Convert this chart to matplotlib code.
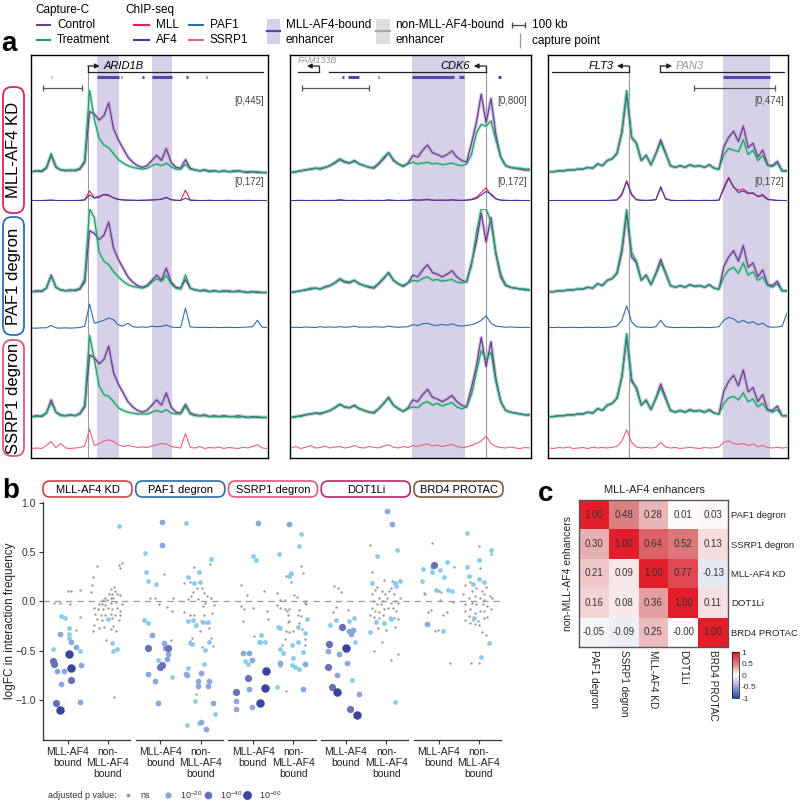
import matplotlib.pyplot as plt
import numpy as np
from matplotlib.patches import FancyBboxPatch, Rectangle
from matplotlib.colors import LinearSegmentedColormap

plt.rcParams['font.family'] = ['Liberation Sans', 'DejaVu Sans']
plt.rcParams['mathtext.default'] = 'regular'

W, H = 800, 805

# ---------------- panel a: Capture-C / ChIP-seq tracks (fraction of track max) ----------------
left_control = [.05, .06, .05, .09, .24, .10, .07, .06, .07, .06, .08, .16, .75, .72, .65, .70, .85, .55, .42, .32,
                .22, .16, .12, .10, .12, .18, .24, .18, .32, .16, .10, .09, .19, .09, .07, .06, .07, .05, .06, .05,
                .06, .05, .05, .06, .05, .04, .05, .04, .04, .04]
left_kd = [.05, .06, .06, .10, .26, .11, .07, .07, .06, .07, .09, .18, 1.0, .66, .44, .36, .33, .26, .19, .15,
           .12, .10, .09, .08, .09, .12, .14, .12, .15, .11, .08, .08, .14, .08, .07, .06, .07, .06, .06, .05,
           .06, .05, .06, .06, .05, .05, .05, .05, .04, .04]
left_paf1 = [.05, .05, .06, .09, .23, .10, .07, .06, .06, .07, .09, .20, 1.0, .90, .50, .40, .36, .28, .22, .17,
             .13, .11, .10, .09, .11, .16, .20, .17, .24, .14, .09, .08, .24, .09, .07, .06, .06, .05, .06, .05,
             .05, .06, .05, .05, .05, .04, .05, .05, .04, .04]
left_ssrp1 = [.05, .05, .06, .09, .21, .10, .06, .06, .07, .06, .09, .18, .97, .70, .40, .30, .28, .22, .15, .12,
              .10, .09, .08, .08, .08, .10, .12, .10, .13, .09, .08, .08, .17, .08, .06, .06, .06, .05, .05, .05,
              .05, .05, .05, .04, .05, .04, .04, .05, .04, .04]
left_mll = [.02, .02, .02, .03, .04, .02, .02, .02, .02, .02, .03, .05, .42, .15, .20, .26, .22, .14, .08, .05,
            .04, .03, .03, .03, .04, .05, .06, .08, .14, .06, .03, .03, .45, .04, .03, .02, .02, .03, .02, .02,
            .02, .03, .02, .02, .02, .03, .02, .02, .02, .02]
left_af4 = [.02, .02, .02, .02, .03, .02, .02, .02, .02, .02, .02, .04, .25, .12, .15, .28, .25, .12, .06, .04,
            .03, .03, .02, .03, .03, .04, .05, .07, .16, .05, .03, .02, .12, .03, .02, .02, .02, .02, .02, .02,
            .02, .02, .02, .02, .02, .02, .02, .02, .02, .02]
left_paf1_chip = [.03, .03, .04, .04, .12, .04, .03, .04, .03, .04, .05, .10, .86, .20, .25, .30, .38, .32, .14, .10,
                  .20, .08, .06, .07, .06, .10, .08, .09, .14, .07, .05, .06, .72, .07, .06, .05, .06, .05, .06, .05,
                  .05, .06, .05, .05, .06, .07, .08, .30, .06, .05]
left_ssrp1_chip = [.10, .12, .10, .22, .38, .14, .30, .12, .10, .12, .14, .20, .88, .22, .30, .40, .45, .38, .25, .18,
                   .22, .18, .14, .16, .14, .20, .25, .30, .28, .18, .15, .12, .70, .14, .12, .18, .10, .14, .12, .16,
                   .10, .14, .12, .10, .15, .12, .18, .25, .12, .10]

mid_control = [.04, .05, .06, .07, .08, .09, .08, .10, .12, .15, .19, .16, .15, .18, .14, .12, .10, .09, .14, .20,
               .27, .18, .14, .11, .15, .24, .22, .30, .36, .27, .25, .22, .25, .29, .22, .18, .16, .38, .62, .95,
               .62, .90, .48, .22, .12, .10, .09, .08, .07, .07]
mid_kd = [.04, .05, .06, .07, .08, .09, .09, .10, .12, .16, .20, .17, .15, .17, .14, .12, .10, .10, .15, .22,
          .27, .19, .14, .12, .14, .16, .14, .15, .16, .14, .15, .13, .14, .15, .13, .12, .14, .25, .50, .60,
          .58, .64, .42, .22, .12, .10, .09, .09, .08, .08]
mid_paf1 = [.04, .05, .06, .07, .09, .09, .08, .11, .12, .15, .20, .17, .16, .18, .14, .12, .11, .10, .15, .21,
            .26, .18, .14, .12, .15, .18, .17, .20, .22, .18, .19, .17, .18, .19, .16, .15, .17, .35, .72, 1.0,
            1.0, .85, .50, .25, .13, .10, .09, .08, .08, .07]
mid_ssrp1 = [.04, .05, .05, .07, .08, .09, .09, .10, .12, .15, .19, .16, .15, .17, .14, .12, .10, .10, .14, .20,
             .26, .18, .14, .11, .14, .16, .15, .20, .22, .18, .20, .17, .19, .21, .16, .14, .16, .30, .55, .80,
             .70, .78, .45, .22, .12, .10, .09, .08, .07, .07]
mid_mll = [.02, .02, .03, .02, .02, .03, .02, .02, .03, .02, .06, .03, .02, .03, .02, .02, .03, .02, .03, .02,
           .05, .03, .02, .03, .03, .06, .04, .05, .08, .04, .03, .04, .03, .06, .03, .03, .04, .08, .15, .35,
           .55, .25, .08, .04, .03, .02, .03, .02, .02, .02]
mid_af4 = [.02, .02, .02, .02, .02, .02, .02, .02, .02, .02, .03, .02, .02, .02, .02, .02, .02, .02, .02, .02,
           .03, .02, .02, .02, .02, .04, .03, .04, .05, .03, .03, .03, .03, .04, .03, .02, .03, .05, .10, .25,
           .40, .30, .10, .03, .02, .02, .02, .02, .02, .02]
mid_paf1_chip = [.05, .06, .05, .07, .06, .05, .08, .06, .07, .06, .08, .06, .07, .10, .06, .07, .06, .08, .07, .06,
                 .10, .07, .06, .07, .08, .15, .12, .18, .20, .14, .12, .16, .13, .18, .12, .10, .12, .15, .20, .30,
                 .45, .20, .10, .08, .06, .07, .06, .05, .06, .05]
mid_ssrp1_chip = [.12, .18, .10, .15, .22, .12, .14, .20, .12, .16, .18, .12, .15, .22, .14, .12, .18, .15, .12, .20,
                  .25, .15, .12, .18, .14, .22, .18, .25, .28, .20, .24, .18, .22, .26, .18, .14, .16, .22, .30, .40,
                  .60, .30, .18, .14, .12, .16, .12, .10, .14, .12]

right_control = [.05, .05, .06, .06, .07, .07, .08, .08, .10, .09, .14, .12, .18, .20, .26, .50, .95, .45, .38, .18,
                 .24, .13, .26, .42, .27, .12, .10, .12, .10, .13, .11, .12, .10, .13, .09, .08, .34, .45, .52, .40,
                 .58, .33, .38, .22, .30, .13, .12, .17, .06, .06]
right_kd = [.05, .05, .06, .06, .07, .07, .08, .08, .10, .09, .14, .12, .18, .20, .27, .52, 1.0, .45, .38, .18,
            .24, .13, .26, .39, .26, .12, .10, .12, .10, .13, .11, .12, .10, .13, .09, .08, .25, .32, .30, .28,
            .42, .25, .30, .18, .24, .12, .11, .15, .06, .06]
right_paf1 = [.05, .05, .06, .06, .07, .07, .08, .08, .10, .09, .14, .12, .18, .20, .27, .55, 1.0, .50, .40, .18,
              .24, .13, .25, .38, .26, .12, .10, .12, .10, .13, .11, .12, .10, .13, .09, .08, .22, .30, .33, .26,
              .38, .24, .28, .18, .22, .12, .10, .14, .06, .06]
right_ssrp1 = [.05, .05, .06, .06, .07, .07, .08, .08, .10, .09, .14, .12, .18, .20, .26, .50, 1.0, .48, .36, .18,
               .23, .13, .25, .38, .25, .12, .10, .12, .10, .12, .11, .12, .10, .12, .09, .08, .20, .26, .28, .24,
               .32, .22, .25, .16, .20, .12, .10, .13, .06, .06]
right_mll = [.02, .02, .02, .02, .02, .02, .02, .02, .02, .02, .02, .02, .02, .03, .05, .30, .85, .30, .06, .03,
             .03, .03, .06, .55, .10, .03, .02, .02, .02, .03, .02, .02, .03, .02, .03, .04, .60, 1.0, .55, .45,
             .50, .35, .30, .20, .28, .08, .05, .03, .02, .02]
right_af4 = [.02, .02, .02, .02, .02, .02, .02, .02, .02, .02, .02, .02, .02, .03, .04, .25, .80, .25, .05, .03,
             .02, .03, .05, .60, .08, .03, .02, .02, .02, .02, .02, .02, .02, .02, .02, .03, .50, .95, .60, .35,
             .42, .30, .35, .18, .22, .06, .04, .02, .02, .02]
right_paf1_chip = [.05, .05, .06, .05, .05, .06, .05, .05, .06, .05, .06, .05, .06, .07, .10, .30, .80, .25, .08, .06,
                   .06, .05, .08, .30, .08, .06, .05, .05, .06, .05, .05, .06, .05, .05, .06, .08, .30, .40, .35, .22,
                   .30, .20, .25, .15, .20, .08, .06, .07, .10, .55]
right_ssrp1_chip = [.12, .10, .14, .12, .16, .10, .12, .14, .10, .15, .12, .14, .12, .15, .18, .40, .85, .35, .16, .12,
                    .14, .12, .15, .35, .16, .12, .14, .10, .12, .15, .12, .10, .14, .12, .13, .16, .35, .40, .30, .26,
                    .30, .22, .28, .18, .22, .14, .12, .15, .12, .14]

# locus annotations (fraction of locus width)
left_capture, mid_capture, right_capture = 0.24, 0.8125, 0.3375
left_shade = [(0.28, 0.37), (0.51, 0.595)]
mid_shade = [(0.507, 0.725)]
right_shade = [(0.73, 0.925)]
left_bars = [(0.28, 0.37), (0.51, 0.595), (0.38, 0.386), (0.47, 0.476), (0.655, 0.661), (0.738, 0.744)]
mid_bars = [(0.216, 0.226), (0.242, 0.288), (0.366, 0.370), (0.507, 0.68), (0.70, 0.72), (0.862, 0.876)]
right_bars = [(0.73, 0.925)]
left_genes = [("ARID1B", 0.24, 0.98, 1, 'black', None)]
mid_genes = [("FAM133B", 0.12, 0.033, -1, '#999999', (0.03, 61)), ("CDK6", 0.8125, 0.162, -1, 'black', None)]
right_genes = [("FLT3", 0.3375, 0.017, -1, 'black', None), ("PAN3", 0.467, 0.985, 1, '#999999', None)]
left_scale, mid_scale, right_scale = (0.05, 0.215), (0.05, 0.329), (0.608, 0.946)
range_labels = ['[0,445]', '[0,800]', '[0,474]']
row_names = ['MLL-AF4 KD', 'PAF1 degron', 'SSRP1 degron']

# ---------------- panel b: logFC per enhancer (offset from category centre, logFC, p-value class) ----------------
kd_bound = [(-0.15, -0.02, 0), (-0.08, -0.02, 0), (0.00, 0.10, 0), (0.04, 0.11, 0), (0.03, -0.03, 0), (0.13, 0.12, 0),
            (0.13, -0.16, 0), (0.09, -0.29, 0),
            (-0.07, -0.15, 1), (-0.03, -0.17, 1), (0.01, -0.27, 1), (0.01, -0.33, 1), (0.01, -0.37, 1), (-0.16, -0.48, 1),
            (0.13, -0.51, 1),
            (-0.08, -0.33, 2), (0.04, -0.41, 2), (0.09, -0.46, 2), (-0.11, -0.71, 2), (-0.04, -0.71, 2), (-0.07, -0.84, 2),
            (0.15, -0.65, 2), (0.13, -1.02, 2),
            (-0.16, -0.61, 3), (-0.15, -0.64, 3), (0.04, -0.80, 3), (-0.13, -1.03, 3),
            (0.02, -0.54, 4), (0.04, -0.68, 4), (-0.08, -1.11, 4)]
kd_nonbound = [(0.12, 0.77, 1), (0.00, -0.18, 1), (0.04, -0.42, 1), (0.10, -0.48, 1), (0.06, -0.51, 1),
               (-0.12, 0.36, 0), (0.12, 0.37, 0), (0.15, 0.39, 0), (0.13, 0.34, 0), (-0.16, 0.25, 0), (-0.17, 0.17, 0),
               (-0.18, 0.09, 0), (0.07, 0.15, 0), (0.03, 0.13, 0), (0.08, 0.10, 0), (0.04, 0.07, 0), (0.01, 0.07, 0),
               (-0.03, 0.03, 0), (-0.05, 0.01, 0), (-0.01, 0.01, 0), (0.03, 0.03, 0), (0.06, 0.03, 0), (0.10, 0.07, 0),
               (0.13, 0.06, 0), (-0.10, -0.03, 0), (-0.06, -0.03, 0), (-0.03, -0.04, 0), (0.03, -0.02, 0),
               (0.09, -0.01, 0), (0.15, -0.03, 0), (-0.15, -0.07, 0), (-0.11, -0.08, 0), (-0.05, -0.08, 0),
               (0.00, -0.07, 0), (0.04, -0.08, 0), (0.10, -0.07, 0), (0.13, -0.10, 0), (-0.14, -0.13, 0),
               (-0.08, -0.14, 0), (-0.03, -0.14, 0), (0.03, -0.13, 0), (0.08, -0.14, 0), (0.13, -0.14, 0),
               (-0.12, -0.18, 0), (-0.06, -0.19, 0), (0.04, -0.17, 0), (0.12, -0.19, 0), (-0.15, -0.24, 0),
               (-0.10, -0.27, 0), (-0.04, -0.26, 0), (0.03, -0.28, 0), (0.06, -0.25, 0), (0.09, -0.30, 0),
               (-0.16, -0.30, 0), (-0.02, -0.39, 0), (0.07, -0.97, 0)]
paf1_bound = [(0.02, 0.81, 2), (0.02, 0.57, 2), (-0.09, -0.34, 2), (0.04, -0.42, 2), (0.05, -0.47, 2), (0.08, -0.54, 2),
              (0.07, -0.59, 2), (-0.13, -0.74, 2), (-0.06, -0.81, 2), (-0.03, -1.03, 2),
              (-0.16, 0.49, 1), (-0.15, 0.30, 1), (-0.13, 0.21, 1), (-0.05, 0.18, 1), (-0.18, -0.19, 1), (-0.13, -0.22, 1),
              (-0.03, -0.60, 1), (0.13, -0.77, 1),
              (-0.13, -0.47, 3), (0.08, -0.47, 3), (0.02, -0.65, 3), (0.00, -0.67, 3),
              (0.04, 0.28, 0), (-0.11, 0.03, 0), (-0.06, 0.03, 0), (-0.01, -0.03, 0), (0.07, -0.06, 0), (0.13, -0.10, 0),
              (0.14, 0.03, 0), (0.11, -0.39, 0)]
paf1_nonbound = [(-0.16, 0.80, 1), (0.11, 0.43, 1), (-0.14, 0.25, 1), (-0.02, 0.30, 1), (-0.01, 0.20, 1), (-0.07, 0.19, 1),
                 (-0.14, -0.20, 1), (-0.08, -0.19, 1), (-0.05, -0.24, 1), (0.08, -0.21, 1), (0.02, -0.21, 1),
                 (-0.11, -0.42, 1), (-0.09, -0.43, 1), (0.09, -0.41, 1), (0.05, -0.49, 1), (-0.14, -0.68, 1),
                 (0.04, -0.64, 1), (-0.15, -1.26, 1), (-0.02, -1.24, 1), (0.15, -1.15, 1), (-0.06, -1.01, 1),
                 (-0.16, -0.74, 2), (-0.15, -0.75, 2), (-0.03, -0.81, 2), (-0.03, -0.86, 2), (0.00, -0.73, 2),
                 (0.09, -0.81, 2), (0.08, -0.86, 2), (0.13, -1.03, 2), (0.06, -1.30, 2), (0.00, -1.23, 2),
                 (-0.07, 0.35, 0), (-0.18, 0.19, 0), (-0.12, 0.20, 0), (-0.04, 0.14, 0), (-0.08, 0.09, 0), (-0.10, 0.05, 0),
                 (-0.18, -0.11, 0), (-0.12, -0.14, 0), (-0.07, -0.14, 0), (-0.09, -0.37, 0), (-0.05, -0.94, 0),
                 (0.10, 0.38, 0), (0.01, 0.14, 0), (0.04, 0.08, 0), (0.11, 0.03, 0), (0.14, -0.04, 0), (0.05, -0.02, 0),
                 (0.04, -0.14, 0), (0.09, -0.27, 0), (0.11, -0.37, 0), (0.01, -0.46, 0), (-0.03, 0.02, 0),
                 (0.02, -0.05, 0), (0.07, 0.05, 0), (-0.14, 0.02, 0), (0.00, -0.20, 0), (0.06, -0.22, 0),
                 (-0.06, -0.25, 0), (0.12, -0.12, 0), (-0.11, -0.40, 0), (0.13, -0.45, 0), (-0.01, -0.30, 0)]
ssrp1_bound = [(0.05, 0.80, 2), (-0.11, -0.53, 2), (-0.04, -0.53, 2), (-0.01, -0.60, 2), (-0.04, -0.89, 2),
               (-0.18, -1.01, 2), (-0.18, -1.09, 2), (-0.01, -1.07, 2),
               (0.00, 0.46, 1), (0.03, 0.42, 1), (0.09, -0.34, 1), (0.06, -0.41, 1), (0.08, -0.41, 1), (0.13, -0.41, 1),
               (-0.09, -0.61, 1), (-0.05, -0.64, 1),
               (-0.05, -0.78, 3), (-0.18, -0.92, 3),
               (0.14, -0.71, 4), (0.13, -0.88, 4), (0.08, -1.03, 4),
               (-0.13, 0.17, 0), (-0.07, 0.06, 0), (0.12, 0.11, 0), (-0.13, -0.05, 0), (-0.10, -0.08, 0), (0.00, -0.07, 0),
               (-0.11, -0.20, 0), (0.01, -0.35, 0), (0.16, -0.18, 0), (0.15, -0.10, 0)]
ssrp1_nonbound = [(-0.05, 0.79, 2), (-0.15, -0.63, 2), (0.13, -0.64, 2), (0.10, -0.89, 2),
                  (0.08, 0.68, 1), (0.06, 0.56, 1), (-0.16, 0.48, 1), (-0.03, 0.29, 1), (-0.05, 0.26, 1), (0.15, -0.18, 1),
                  (-0.17, -0.26, 1), (-0.15, -0.27, 1), (0.12, -0.32, 1), (0.05, -0.26, 1), (0.05, -0.41, 1),
                  (-0.01, -0.44, 1), (-0.14, -0.48, 1), (0.10, -0.52, 1), (-0.11, -0.53, 1), (0.00, -0.58, 1),
                  (-0.14, -0.65, 1), (-0.01, -0.65, 1), (0.02, -0.67, 1), (0.06, -0.69, 1), (-0.18, -0.87, 1),
                  (0.08, 0.36, 0), (0.10, 0.29, 0), (-0.01, 0.28, 0), (-0.08, 0.26, 0), (-0.03, 0.20, 0), (-0.18, 0.08, 0),
                  (0.01, 0.06, 0), (0.04, 0.04, 0), (-0.15, 0.01, 0), (-0.09, 0.01, 0), (-0.18, -0.04, 0),
                  (-0.09, -0.08, 0), (-0.07, -0.10, 0), (-0.05, -0.08, 0), (-0.06, -0.14, 0), (-0.05, -0.20, 0),
                  (-0.06, -0.21, 0), (-0.15, -0.07, 0), (0.06, -0.09, 0), (0.05, -0.14, 0), (0.08, -0.15, 0),
                  (0.12, 0.00, 0), (0.13, -0.02, 0), (0.14, -0.03, 0), (0.06, -0.22, 0), (0.09, -0.28, 0),
                  (-0.08, -0.30, 0), (0.00, -0.30, 0), (-0.05, -0.31, 0), (-0.09, -0.38, 0), (0.13, -0.38, 0),
                  (-0.12, -0.44, 0), (0.12, -0.44, 0), (-0.08, -0.91, 0)]
dot1l_bound = [(-0.13, 0.16, 0), (-0.08, 0.14, 0), (-0.05, 0.09, 0), (-0.11, -0.06, 0), (-0.14, -0.11, 0), (0.02, -0.09, 0),
               (-0.17, -0.24, 1), (-0.11, -0.19, 1), (0.09, -0.17, 1), (0.03, -0.20, 1), (0.10, -0.41, 1), (0.07, -0.80, 1),
               (0.08, -0.29, 2), (0.03, -0.30, 2), (0.06, -0.33, 2), (-0.19, -0.51, 2), (-0.07, -0.54, 2),
               (0.01, -0.63, 2), (-0.10, -0.75, 2), (0.14, -0.94, 2),
               (-0.04, -0.26, 3), (-0.18, -0.43, 3), (-0.19, -0.67, 3), (-0.15, -0.87, 3), (0.04, -1.09, 3),
               (0.00, -0.47, 4), (-0.10, -0.92, 4), (0.12, -1.16, 4)]
dot1l_nonbound = [(0.01, 0.92, 2), (0.06, 0.79, 2),
                  (0.12, 0.52, 1), (-0.10, 0.46, 1), (-0.15, 0.19, 1), (0.15, 0.21, 1), (0.09, 0.19, 1), (0.11, 0.16, 1),
                  (-0.11, -0.21, 1), (-0.02, -0.22, 1), (0.05, -0.18, 1), (-0.17, -0.31, 1), (0.09, -1.02, 1),
                  (-0.17, 0.57, 0), (-0.15, 0.30, 0), (0.06, 0.21, 0), (-0.02, 0.22, 0), (-0.10, 0.15, 0), (-0.12, 0.12, 0),
                  (-0.15, 0.07, 0), (-0.05, 0.10, 0), (-0.01, 0.07, 0), (0.03, 0.10, 0), (0.05, 0.14, 0), (0.08, 0.07, 0),
                  (-0.08, 0.03, 0), (-0.03, 0.00, 0), (0.01, 0.03, 0), (-0.14, 0.00, 0), (-0.10, -0.03, 0),
                  (-0.06, -0.03, 0), (0.05, -0.02, 0), (0.10, 0.00, 0), (0.13, -0.02, 0), (0.15, 0.03, 0),
                  (-0.15, -0.07, 0), (-0.12, -0.10, 0), (-0.08, -0.11, 0), (-0.02, -0.08, 0), (0.02, -0.07, 0),
                  (0.07, -0.07, 0), (0.11, -0.10, 0), (-0.17, -0.14, 0), (-0.13, -0.16, 0), (-0.08, -0.17, 0),
                  (-0.03, -0.14, 0), (0.04, -0.16, 0), (0.08, -0.17, 0), (0.13, -0.18, 0), (-0.03, -0.22, 0),
                  (0.00, -0.29, 0), (0.10, -0.26, 0), (-0.09, -0.27, 0), (-0.05, -0.41, 0), (-0.13, -0.51, 0),
                  (0.05, -0.60, 0), (0.13, -0.54, 0)]
brd4_bound = [(-0.05, 0.37, 3),
              (-0.17, 0.33, 1), (-0.07, 0.30, 1), (-0.07, 0.35, 1), (0.02, 0.32, 1), (0.09, 0.40, 1), (0.06, 0.25, 1),
              (-0.18, 0.21, 1), (-0.03, 0.12, 1), (0.10, 0.12, 1), (0.14, 0.11, 1), (0.05, -0.30, 1),
              (-0.12, -0.23, 2),
              (-0.07, 0.59, 0), (0.17, 0.35, 0), (-0.16, 0.08, 0), (-0.15, 0.07, 0), (0.00, 0.10, 0), (0.03, 0.09, 0),
              (0.01, 0.01, 0), (0.16, -0.01, 0), (-0.08, -0.09, 0), (-0.11, -0.11, 0), (0.09, -0.11, 0), (0.05, -0.14, 0),
              (-0.04, -0.30, 0), (-0.01, -0.29, 0), (0.12, -0.63, 0)]
brd4_nonbound = [(-0.13, 0.69, 1), (0.13, 0.52, 1), (0.00, 0.42, 1), (-0.13, 0.35, 1), (-0.06, 0.18, 1), (-0.11, 0.26, 1),
                 (0.00, 0.23, 1), (0.05, 0.20, 1), (-0.05, -0.17, 1), (0.11, -0.42, 1), (0.02, -0.57, 1),
                 (0.00, 0.56, 0), (0.13, 0.48, 0), (0.01, 0.34, 0), (-0.10, 0.20, 0), (-0.15, 0.17, 0), (-0.07, 0.10, 0),
                 (-0.03, 0.14, 0), (0.03, 0.10, 0), (0.08, 0.15, 0), (-0.17, 0.07, 0), (-0.11, 0.03, 0), (-0.04, 0.05, 0),
                 (0.01, 0.03, 0), (0.06, 0.01, 0), (0.12, 0.05, 0), (-0.15, -0.03, 0), (-0.08, -0.02, 0),
                 (-0.03, -0.03, 0), (0.04, -0.03, 0), (0.09, -0.05, 0), (-0.10, -0.08, 0), (-0.04, -0.12, 0),
                 (0.01, -0.10, 0), (0.06, -0.10, 0), (0.13, -0.08, 0), (-0.15, -0.10, 0), (-0.11, -0.15, 0),
                 (-0.06, -0.19, 0), (-0.01, -0.20, 0), (0.05, -0.17, 0), (0.09, -0.16, 0), (-0.15, -0.19, 0),
                 (-0.10, -0.22, 0), (-0.04, -0.23, 0), (0.00, -0.24, 0), (0.08, -0.34, 0), (0.03, -0.31, 0),
                 (0.00, -0.63, 0), (-0.09, -0.63, 0), (0.06, 0.07, 0), (0.14, 0.03, 0)]
group_names = ['MLL-AF4 KD', 'PAF1 degron', 'SSRP1 degron', 'DOT1Li', 'BRD4 PROTAC']
group_colors = ['#C9473F', '#2C6AA6', '#E0587A', '#B22A6E', '#7A5A40']

# ---------------- panel c: correlation matrix ----------------
heat_labels = ['PAF1 degron', 'SSRP1 degron', 'MLL-AF4 KD', 'DOT1Li', 'BRD4 PROTAC']
corr = [[1.00, 0.48, 0.28, 0.01, 0.03],
        [0.30, 1.00, 0.64, 0.52, 0.13],
        [0.21, 0.09, 1.00, 0.77, -0.13],
        [0.16, 0.08, 0.36, 1.00, 0.11],
        [-0.05, -0.09, 0.25, -0.0, 1.00]]

PURPLE, PURPLE_L = '#6A3D8F', '#B9A3CF'
GREEN, GREEN_L = '#1F9D6B', '#9ED6BD'
MLL_C, AF4_C, PAF1_C, SSRP1_C = '#E8205A', '#3B3B9E', '#2E6DB0', '#F0607F'
SHADE, ENH = '#D6D0E8', '#5A45A8'
P_COLORS = ['#9A9A9A', '#87CDEA', '#8AA8DE', '#6A70B8', '#3A45A0']
P_SIZES = [3, 12, 17, 27, 37]


def rect(x0, y0, x1, y1):
    return [x0 / W, 1 - y1 / H, (x1 - x0) / W, (y1 - y0) / H]


fig = plt.figure(figsize=(8, 8.05), dpi=100)

CAP_ROWS = [(90, 176), (209, 296), (333, 421)]
CHIP_ROWS = [(177, 201), (300, 329), (426, 451)]


def draw_locus(x0, x1, capture, shades, bars, genes, scale, rlabel, control, treats, chips, gray_bars=()):
    box = fig.add_axes(rect(x0, 55, x1, 458))
    box.set_xlim(0, 1)
    box.set_ylim(458, 55)
    box.set_xticks([])
    box.set_yticks([])
    for s in box.spines.values():
        s.set_linewidth(1.0)
    for a, b in shades:
        box.axvspan(a, b, color=SHADE, lw=0)
    box.vlines(capture, 66, 458, color='#9a9a9a', lw=0.8)
    for name, tss, end, d, col, lab in genes:
        box.plot([tss, end], [72, 72], color='#222222', lw=0.9)
        box.plot([tss, tss], [72, 66], color='#222222', lw=0.9)
        box.annotate('', xy=(tss + d * 0.05, 66), xytext=(tss, 66),
                     arrowprops=dict(arrowstyle='-|>', color='#222222', lw=0.9,
                                     mutation_scale=7, shrinkA=0, shrinkB=0))
        if lab is None:
            box.text(tss + d * 0.065, 66, name, ha='left' if d > 0 else 'right', va='center',
                     style='italic', fontsize=8, color=col)
        else:
            box.text(lab[0], lab[1], name, ha='left', va='center', style='italic', fontsize=6.5, color=col)
    for a, b in bars:
        box.hlines(77, a, b, color=ENH, lw=2.2)
    for a, b in gray_bars:
        box.hlines(77, a, b, color='#A0A0A0', lw=2.2)
    box.plot(scale, [88, 88], color='#555555', lw=0.9)
    box.vlines(scale, 85, 91, color='#555555', lw=0.9)
    box.text(0.985, 101, rlabel, ha='right', va='center', fontsize=7, color='#444444')
    box.text(0.985, 182, '[0,172]', ha='right', va='center', fontsize=7, color='#444444')

    for r in range(3):
        t0, t1 = CAP_ROWS[r]
        ax = fig.add_axes(rect(x0 + 1, t0, x1 - 1, t1))
        ax.set_xlim(0, 1)
        ax.set_ylim(0, 1)
        ax.axis('off')
        xc = np.linspace(0, 1, len(control))
        xt = np.linspace(0, 1, len(treats[r]))
        ax.plot(xc, control, color=PURPLE_L, lw=2.6, alpha=0.6, solid_joinstyle='round')
        ax.plot(xt, treats[r], color=GREEN_L, lw=2.6, alpha=0.6, solid_joinstyle='round')
        ax.plot(xc, control, color=PURPLE, lw=0.9)
        ax.plot(xt, treats[r], color=GREEN, lw=0.9)

        c0, c1 = CHIP_ROWS[r]
        axc = fig.add_axes(rect(x0 + 1, c0, x1 - 1, c1))
        axc.set_xlim(0, 1)
        axc.set_ylim(0, 1)
        axc.axis('off')
        for vals, col in chips[r]:
            axc.plot(np.linspace(0, 1, len(vals)), vals, color=col, lw=0.8)


draw_locus(31, 268, left_capture, left_shade, left_bars, left_genes, left_scale, range_labels[0],
           left_control, [left_kd, left_paf1, left_ssrp1],
           [[(left_mll, MLL_C), (left_af4, AF4_C)], [(left_paf1_chip, PAF1_C)], [(left_ssrp1_chip, SSRP1_C)]],
           gray_bars=[(0.085, 0.09)])
draw_locus(290, 531, mid_capture, mid_shade, mid_bars, mid_genes, mid_scale, range_labels[1],
           mid_control, [mid_kd, mid_paf1, mid_ssrp1],
           [[(mid_mll, MLL_C), (mid_af4, AF4_C)], [(mid_paf1_chip, PAF1_C)], [(mid_ssrp1_chip, SSRP1_C)]])
draw_locus(548, 788, right_capture, right_shade, right_bars, right_genes, right_scale, range_labels[2],
           right_control, [right_kd, right_paf1, right_ssrp1],
           [[(right_mll, MLL_C), (right_af4, AF4_C)], [(right_paf1_chip, PAF1_C)], [(right_ssrp1_chip, SSRP1_C)]])

# ---------------- panel b ----------------
axb = fig.add_axes(rect(43, 502, 503, 740))
axb.set_xlim(0, 460 / 92.75)
axb.set_ylim(-1.41, 1.01)
axb.axhline(0, color='#999999', lw=0.9, ls=(0, (5, 4)), zorder=0)
groups = [(kd_bound, kd_nonbound), (paf1_bound, paf1_nonbound), (ssrp1_bound, ssrp1_nonbound),
          (dot1l_bound, dot1l_nonbound), (brd4_bound, brd4_nonbound)]
pts = []
for g, (bound, nonbound) in enumerate(groups):
    for centre, data in [(g + 0.265, bound), (g + 0.70, nonbound)]:
        for off, fc, cat in data:
            pts.append((centre + off, fc, cat))
pts = np.array(pts)
for cat in range(5):
    sel = pts[pts[:, 2] == cat]
    axb.scatter(sel[:, 0], sel[:, 1], s=P_SIZES[cat], color=P_COLORS[cat], lw=0, zorder=2 + cat)
for g in range(5):
    axb.plot([g, g + 0.94], [-1.41, -1.41], color='#333333', lw=0.9, clip_on=False)
ticks = []
labels = []
for g in range(5):
    ticks += [g + 0.265, g + 0.70]
    labels += ['MLL-AF4\nbound', 'non-\nMLL-AF4\nbound']
axb.set_xticks(ticks)
axb.set_xticklabels(labels, fontsize=7.5, color='#222222', linespacing=1.15)
axb.set_yticks([-1.0, -0.5, 0.0, 0.5, 1.0])
axb.set_yticklabels(['\u22121.0', '\u22120.5', '0.0', '0.5', '1.0'], fontsize=7.5, color='#333333')
axb.tick_params(axis='both', length=3, width=0.8, color='#333333', pad=2)
for s in ['top', 'right', 'bottom']:
    axb.spines[s].set_visible(False)
axb.spines['left'].set_color('#333333')
axb.spines['left'].set_linewidth(0.9)
axb.set_ylabel('logFC in interaction frequency', fontsize=8.5, color='#222222')
axb.yaxis.set_label_coords(-0.058, 0.5)

# ---------------- panel c ----------------
cmap = LinearSegmentedColormap.from_list('rwb', [(0, '#1F4E9C'), (0.25, '#9FA8D3'), (0.5, '#FFFFFF'),
                                                 (0.75, '#DB7B7F'), (1.0, '#E31E2A')])
axh = fig.add_axes(rect(579, 500, 728, 647))
im = axh.imshow(np.array(corr), cmap=cmap, vmin=-1, vmax=1, aspect='auto')
for i in range(5):
    for j in range(5):
        axh.text(j, i, f"{corr[i][j]:.2f}", ha='center', va='center', fontsize=7, color='#333333')
axh.set_xticks(range(5))
axh.set_xticklabels(heat_labels, rotation=-90, fontsize=7.2, color='#222222')
axh.set_yticks(range(5))
axh.set_yticklabels(heat_labels, fontsize=6.8, color='#222222')
axh.yaxis.tick_right()
axh.tick_params(length=0, pad=2)
for s in axh.spines.values():
    s.set_color('#555555')
    s.set_linewidth(1.0)
axh.set_ylabel('non-MLL-AF4 enhancers', fontsize=7.5, color='#222222', labelpad=4)
cax = fig.add_axes(rect(732, 652, 739, 698))
cb = fig.colorbar(im, cax=cax, ticks=[-1, -0.5, 0, 0.5, 1])
cb.ax.set_yticklabels(['-1', '-0.5', '0', '0.5', '1'], fontsize=6, color='#333333')
cb.ax.tick_params(length=0, pad=2)
cb.outline.set_linewidth(0.5)

# ---------------- overlay: legends, labels, pills ----------------
over = fig.add_axes([0, 0, 1, 1], zorder=10)
over.set_xlim(0, W)
over.set_ylim(H, 0)
over.axis('off')

for txt, x, y in [('a', 9, 44), ('b', 11, 491), ('c', 546, 494)]:
    over.text(x, y, txt, fontsize=20, fontweight='bold', ha='center', va='center')

fs = 8.5
over.text(35, 10, 'Capture-C', fontsize=fs, va='center')
over.text(125, 10, 'ChIP-seq', fontsize=fs, va='center')
for (x0, x1, y, col, name) in [(37, 50, 25, PURPLE, 'Control'), (37, 50, 40, GREEN, 'Treatment'),
                               (134, 149, 25, MLL_C, 'MLL'), (134, 149, 40, AF4_C, 'AF4'),
                               (189, 203, 25, PAF1_C, 'PAF1'), (189, 203, 40, SSRP1_C, 'SSRP1')]:
    over.plot([x0, x1], [y, y], color=col, lw=1.5)
    over.text(x1 + 7, y, name, fontsize=fs, va='center')
over.add_patch(Rectangle((267, 19), 13, 25, color=SHADE, lw=0))
over.plot([267, 280], [31, 31], color=ENH, lw=1.6)
over.text(286, 25, 'MLL-AF4-bound', fontsize=fs, va='center')
over.text(286, 40, 'enhancer', fontsize=fs, va='center')
over.add_patch(Rectangle((376, 19), 14, 25, color='#DEDEDE', lw=0))
over.plot([376, 390], [31, 31], color='#A8A8A8', lw=1.6)
over.text(395, 25, 'non-MLL-AF4-bound', fontsize=fs, va='center')
over.text(395, 40, 'enhancer', fontsize=fs, va='center')
over.plot([512, 525], [25, 25], color='#444444', lw=0.9)
over.vlines([512, 525], 22, 28, color='#444444', lw=0.9)
over.text(532, 25, '100 kb', fontsize=fs, va='center')
over.vlines(520, 33, 48, color='#9a9a9a', lw=0.9)
over.text(532, 41, 'capture point', fontsize=fs, va='center')

for (y0, y1), name, col in zip([(87, 213), (217, 335), (340, 456)], row_names, ['#E0245E', '#2D6DB5', '#E0587A']):
    over.add_patch(FancyBboxPatch((3, y0), 21, y1 - y0, boxstyle='round,pad=0,rounding_size=9',
                                  fc='white', ec=col, lw=1.3))
    over.text(13.5, (y0 + y1) / 2, name, rotation=90, fontsize=12, ha='center', va='center')

for g, (name, col) in enumerate(zip(group_names, group_colors)):
    x0 = 43 + 92.75 * g
    over.add_patch(FancyBboxPatch((x0, 481), 89, 16, boxstyle='round,pad=0,rounding_size=7',
                                  fc='white', ec=col, lw=1.2))
    over.text(x0 + 44.5, 489.5, name, fontsize=8, ha='center', va='center')

over.text(654, 490, 'MLL-AF4 enhancers', fontsize=8, ha='center', va='center', color='#222222')

over.text(48, 795, 'adjusted p value:', fontsize=6.5, va='center', color='#333333')
for x, cat, lab in [(128, 0, 'ns'), (168, 2, '10$^{-20}$'), (208, 3, '10$^{-40}$'), (247, 4, '10$^{-60}$')]:
    over.scatter([x], [795], s=P_SIZES[cat] + 4, color=P_COLORS[cat], lw=0)
    over.text(x + 12, 795, lab, fontsize=6.5, va='center', color='#333333')

fig.savefig('out.png', dpi=100)
